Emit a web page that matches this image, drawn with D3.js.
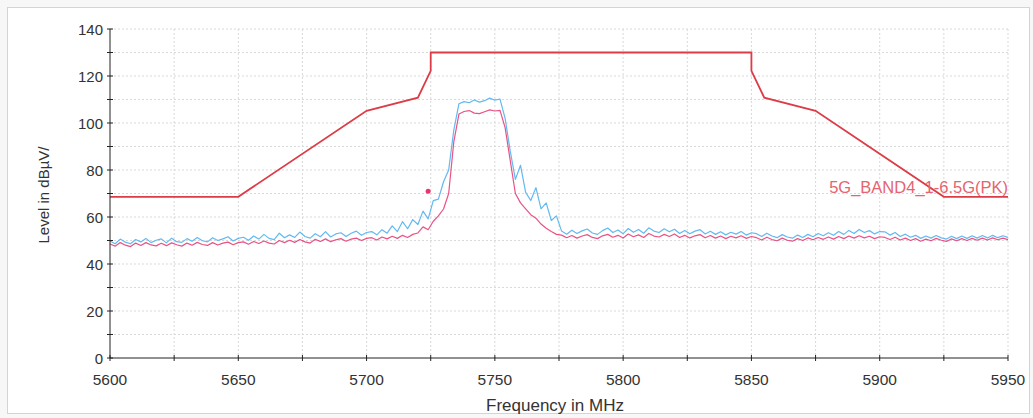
<!DOCTYPE html>
<html><head><meta charset="utf-8">
<script src="https://cdn.jsdelivr.net/npm/d3@7"></script>
<style>
html,body{margin:0;padding:0;background:#f7f7f7;}
svg{display:block;}
text{font-family:"Liberation Sans",Arial,sans-serif;}
</style></head>
<body>
<svg id="chart" width="1033" height="418"></svg>
<script>
// ---- data ----
const freqStart = 5600, freqStep = 2;
const xTicks = [5600, 5650, 5700, 5750, 5800, 5850, 5900, 5950];
const yTicks = [0, 20, 40, 60, 80, 100, 120, 140];

const limitFreq  = [5600, 5650, 5700, 5720, 5725, 5725, 5850, 5850, 5855, 5875, 5925, 5950];
const limitLevel = [68.6, 68.6, 105.2, 110.8, 122.2, 130, 130, 122.2, 110.8, 105.2, 68.6, 68.6];
const limitName = "5G_BAND4_1-6.5G(PK)";

const peakTrace = [
 49.8,48.6,50.6,49.3,48.6,50.4,49.4,50.9,49.1,50.1,50.7,49.0,51.0,49.5,49.2,50.8,49.7,51.3,49.9,49.4,51.2,50.0,50.7,51.6,49.8,50.9,
 51.4,50.1,51.9,50.6,52.6,50.9,50.4,53.1,51.2,52.4,51.3,53.6,51.7,51.0,52.9,51.6,53.8,51.5,52.8,53.3,51.7,53.1,54.0,52.2,53.4,
 53.8,52.4,54.6,53.1,56.2,53.8,58.0,55.0,58.9,56.8,
 62.5,59.2,67.0,67.6,75.0,
 80.0, 97.0,
 108.2,109.1,108.6,109.8,108.9,109.5,110.6,109.7,110.2,
 102.0, 88.0, 76.0,
 82.0,70.5,67.0,72.5,63.5,66.0,58.5,60.5,
 54.0,52.7,54.4,53.0,54.1,54.9,53.2,52.6,54.2,55.3,53.4,54.5,52.9,55.1,53.5,54.7,53.1,55.4,54.0,53.4,55.0,53.7,54.8,53.0,54.3,52.9,54.0,54.6,52.8,53.9,52.6,53.7,52.4,53.5,52.7,53.8,52.3,53.3,
 52.9,51.7,53.1,51.9,51.2,52.5,51.5,51.0,52.3,51.3,52.6,51.6,53.0,52.0,53.3,52.2,53.8,52.6,54.3,53.0,54.7,53.4,54.2,52.8,53.8,
 53.7,52.3,53.4,51.7,52.7,51.4,52.2,50.9,51.9,51.0,52.1,51.1,50.6,51.8,50.8,51.9,50.9,52.0,51.0,52.1,51.1,52.2,51.2,52.0,51.3
];
const avgTrace = [
 48.5,47.6,49.1,48.0,47.4,48.9,47.9,49.1,48.1,47.7,48.8,47.8,49.0,48.2,47.6,48.9,48.0,49.2,48.3,47.9,49.1,48.1,48.9,49.3,48.2,49.1,
 49.4,48.4,49.6,48.7,49.8,48.9,48.5,50.0,49.1,50.1,49.2,50.4,49.4,48.9,50.5,49.6,50.7,49.5,50.3,50.8,49.7,50.6,51.0,50.0,50.9,
 51.2,50.2,51.5,50.7,51.8,50.9,52.2,51.3,52.6,53.2,
 55.8,54.6,58.2,60.5,63.4,
 70.0, 92.0,
 103.8,104.9,105.3,104.2,104.0,104.8,105.6,105.1,105.4,
 98.0, 84.0, 70.0,
 66.0,63.5,61.0,59.5,57.0,55.2,53.8,52.6,
 52.3,51.2,52.1,51.0,51.9,52.5,51.3,50.8,52.0,52.6,51.4,52.2,51.1,52.8,51.6,52.4,51.3,53.0,51.9,51.5,52.6,51.7,52.8,51.3,52.2,51.1,52.0,52.5,51.2,52.1,51.0,51.9,50.8,51.8,51.1,52.0,50.9,51.7,
 51.2,50.2,51.4,50.4,49.9,51.0,50.1,49.7,50.8,50.0,51.1,50.3,51.3,50.5,51.5,50.6,51.7,50.8,51.9,51.0,52.0,51.1,51.8,50.8,51.6,
 51.3,50.4,51.4,50.2,51.0,50.0,50.8,49.7,50.6,49.9,50.9,50.1,49.6,50.7,49.9,50.8,50.0,50.9,50.1,51.0,50.2,51.1,50.3,51.0,50.4
];
const markerFreq = [5724];
const markerLevel = [71];

// ---- drawing ----
const svg = d3.select("#chart");
const m = {left:110, right:1008, top:29, bottom:358};

svg.append("rect").attr("x",7.5).attr("y",7.5).attr("width",1022).attr("height",406)
  .attr("fill","#fff").attr("stroke","#d4d4d4");

const x = d3.scaleLinear().domain([5600,5950]).range([m.left, m.right]);
const y = d3.scaleLinear().domain([0,140]).range([m.bottom, m.top]);

// grid
const gGrid = svg.append("g");
d3.range(5625, 5951, 25).forEach(f => {
  gGrid.append("line").attr("x1",x(f)).attr("x2",x(f)).attr("y1",m.top).attr("y2",m.bottom)
    .attr("stroke","#d9d9d9").attr("stroke-dasharray","2,2");
});
d3.range(10, 141, 10).forEach(v => {
  gGrid.append("line").attr("x1",m.left).attr("x2",m.right).attr("y1",y(v)).attr("y2",y(v))
    .attr("stroke","#d9d9d9").attr("stroke-dasharray","2,2");
});

// traces
const freqs = peakTrace.map((_, i) => freqStart + i*freqStep);
const line = d3.line().x((d,i)=>x(freqs[i])).y(d=>y(d));
svg.append("path").datum(peakTrace).attr("d",line).attr("fill","none")
  .attr("stroke","#63b9f0").attr("stroke-width",1.2).attr("stroke-linejoin","round");
svg.append("path").datum(avgTrace).attr("d",line).attr("fill","none")
  .attr("stroke","#e8346f").attr("stroke-width",1.2).attr("stroke-opacity",0.85).attr("stroke-linejoin","round");

// limit
const limLine = d3.line().x((d,i)=>x(limitFreq[i])).y(d=>y(d));
svg.append("path").datum(limitLevel).attr("d",limLine).attr("fill","none")
  .attr("stroke","#dc3c46").attr("stroke-width",1.8);
svg.append("text").attr("x",x(5950)).attr("y",y(68.6)-4).attr("text-anchor","end")
  .attr("font-size",16.5).attr("fill","#e56470").text(limitName);

// marker
markerFreq.forEach((f,i)=>{
  svg.append("circle").attr("cx",x(f)).attr("cy",y(markerLevel[i])).attr("r",2.5).attr("fill","#e8346f");
});

// axes
const gx = svg.append("g").attr("transform",`translate(0,${m.bottom})`);
gx.append("line").attr("x1",m.left).attr("x2",m.right).attr("stroke","#222");
d3.range(5600, 5951, 25).forEach(f=>{
  gx.append("line").attr("x1",x(f)).attr("x2",x(f)).attr("y1",-3).attr("y2",3).attr("stroke","#222");
});
gx.selectAll("text.tl").data(xTicks).enter().append("text")
  .attr("x",d=>x(d)).attr("y",27).attr("text-anchor","middle").attr("font-size",15.5).attr("fill","#333").text(d=>d);

const gy = svg.append("g").attr("transform",`translate(${m.left},0)`);
gy.append("line").attr("y1",m.top).attr("y2",m.bottom).attr("stroke","#222");
d3.range(0, 141, 10).forEach(v=>{
  gy.append("line").attr("x1",-3).attr("x2",3).attr("y1",y(v)).attr("y2",y(v)).attr("stroke","#222");
});
gy.selectAll("text.tl").data(yTicks).enter().append("text")
  .attr("x",-7).attr("y",d=>y(d)+5.5).attr("text-anchor","end").attr("font-size",15).attr("fill","#333").text(d=>d);

svg.append("text").attr("x",555).attr("y",411).attr("text-anchor","middle")
  .attr("font-size",17).attr("fill","#333").text("Frequency in MHz");
svg.append("text").attr("transform","translate(49,195) rotate(-90)").attr("text-anchor","middle")
  .attr("font-size",15).attr("fill","#333").text("Level in dBµV/");
</script>
</body></html>
